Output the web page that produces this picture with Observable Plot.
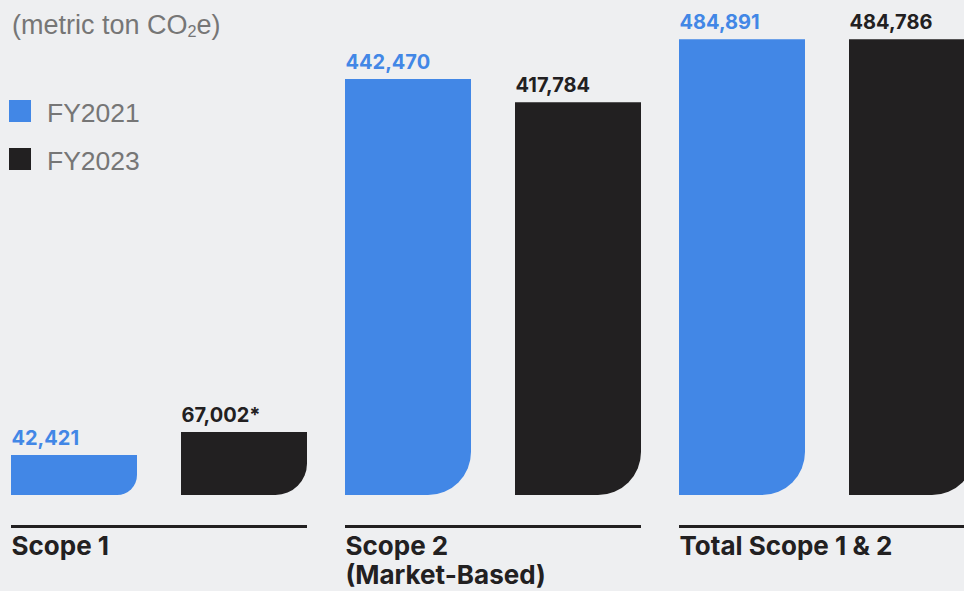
<!DOCTYPE html>
<html>
<head>
<meta charset="utf-8">
<script src="https://cdn.jsdelivr.net/npm/d3@7"></script>
<script src="https://cdn.jsdelivr.net/npm/@observablehq/plot@0.6"></script>
<style>
  html, body { margin: 0; padding: 0; background: #eeeff1; overflow: hidden; }
  #wrap { position: relative; width: 964px; height: 591px; overflow: hidden; }
  #chart { position: absolute; left: 0; top: 0; width: 975px; }
  #chart svg { max-width: none !important; }
  #subtitle { position: absolute; left: 12px; top: 12px; font: 27px "Liberation Sans", Arial, sans-serif; line-height: 27px; color: #767676; white-space: nowrap; }
  #subtitle sub { font-size: 0.6em; vertical-align: -0.2em; line-height: 0; }
  #legend { position: absolute; left: 9px; top: 100px; font: 26.5px "Liberation Sans", Arial, sans-serif; color: #767676; }
  .item { position: relative; height: 26px; margin-bottom: 22px; }
  .sw { position: absolute; left: 0; top: 0; width: 22px; height: 22px; }
  .lab { position: absolute; left: 38px; top: 0; line-height: 26px; white-space: nowrap; }
</style>
</head>
<body>
<div id="wrap">
  <div id="chart"></div>
  <div id="subtitle">(metric ton CO<sub>2</sub>e)</div>
  <div id="legend"></div>
</div>
<script>
// ---- data ----
const categories = ["Scope 1", "Scope 2 (Market-Based)", "Total Scope 1 & 2"];
const years = ["FY2021", "FY2023"];
const fy2021 = [42421, 442470, 484891];
const fy2023 = [67002, 417784, 484786];
const fy2023Notes = ["*", "", ""];
const colors = ["#4287e6", "#222021"];

// ---- table built from arrays ----
const rows = [];
categories.forEach((c, i) => {
  rows.push({category: c, year: years[0], value: fy2021[i], note: ""});
  rows.push({category: c, year: years[1], value: fy2023[i], note: fy2023Notes[i]});
});
const fmt = d3.format(",");

function build(bw) {
  return Plot.plot({
    width: 975,
    height: 591,
    marginLeft: 11,
    marginRight: 0,
    marginTop: 25,
    marginBottom: 96,
    style: {fontFamily: "Inter, sans-serif", background: "transparent", overflow: "visible", maxWidth: "none"},
    fx: {domain: categories, paddingInner: 0.114, paddingOuter: 0, align: 0, axis: null},
    x: {domain: years, paddingInner: 0.26, paddingOuter: 0, align: 0, axis: null},
    y: {domain: [0, 500000], axis: null},
    color: {domain: years, range: colors},
    marks: [
      Plot.barY(rows, {fx: "category", x: "year", y: "value", fill: "year", inset: 0}),
      Plot.text(rows, {
        fx: "category", x: "year", y: "value",
        text: d => fmt(d.value) + d.note,
        fill: "year", textAnchor: "start", lineAnchor: "bottom",
        dx: -bw / 2, dy: -11, fontSize: 20, fontWeight: 700
      }),
      Plot.ruleY(categories, {fx: d => d, y: () => 0, dy: 31, stroke: "#222021", strokeWidth: 3}),
      Plot.text(categories, {
        fx: d => d, frameAnchor: "bottom-left",
        text: d => d.replace(" (", "\n("),
        textAnchor: "start", lineAnchor: "top", lineHeight: 1.14,
        dy: 38, fontSize: 26, fontWeight: 700, fill: "#222021"
      })
    ]
  });
}

const first = build(0);
const bw = first.scale("x").bandwidth;
const chart = build(bw);

// round the bottom-right corner of each bar
chart.querySelectorAll('g[aria-label="bar"] rect').forEach(rect => {
  const x = +rect.getAttribute("x"), y = +rect.getAttribute("y");
  const w = +rect.getAttribute("width"), h = +rect.getAttribute("height");
  const r = Math.min(43, h * 0.5, w);
  const p = document.createElementNS("http://www.w3.org/2000/svg", "path");
  for (const a of rect.attributes) {
    if (!["x", "y", "width", "height"].includes(a.name)) p.setAttribute(a.name, a.value);
  }
  p.setAttribute("d", `M${x},${y}H${x + w}V${y + h - r}A${r},${r} 0 0 1 ${x + w - r},${y + h}H${x}Z`);
  rect.replaceWith(p);
});
document.getElementById("chart").appendChild(chart);

// legend
const legend = document.getElementById("legend");
years.forEach((yr, i) => {
  const item = document.createElement("div");
  item.className = "item";
  item.innerHTML = `<div class="sw" style="background:${colors[i]}"></div><div class="lab">${yr}</div>`;
  legend.appendChild(item);
});
</script>
</body>
</html>
